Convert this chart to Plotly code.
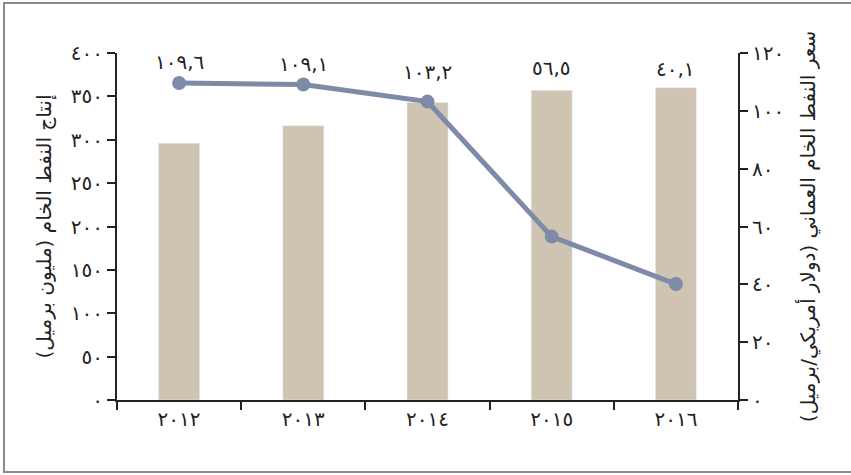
import plotly.graph_objects as go

# Oman crude oil: annual production (million barrels) and average price (USD/barrel)
years = ["٢٠١٢", "٢٠١٣", "٢٠١٤", "٢٠١٥", "٢٠١٦"]
production = [296, 316, 343, 357, 360]
price = [109.6, 109.1, 103.2, 56.5, 40.1]
price_labels = ["١٠٩,٦", "١٠٩,١", "١٠٣,٢", "٥٦,٥", "٤٠,١"]
label_lift = [21, 21, 30, 22, 19]

left_ticks = [0, 50, 100, 150, 200, 250, 300, 350, 400]
left_ticktext = ["٠", "٥٠", "١٠٠", "١٥٠", "٢٠٠", "٢٥٠", "٣٠٠", "٣٥٠", "٤٠٠"]
right_ticks = [0, 20, 40, 60, 80, 100, 120]
right_ticktext = ["٠", "٢٠", "٤٠", "٦٠", "٨٠", "١٠٠", "١٢٠"]

left_title = "إنتاج النفط الخام (مليون برميل)"
right_title = "سعر النفط الخام العماني (دولار أمريكي/برميل)"

W, H = 851, 475
ML, MR, MT, MB = 117, 113, 53, 75
PW, PH = W - ML - MR, H - MT - MB

BAR = "#cfc4b1"
LINE = "#7d8aa8"
INK = "#222222"
FONT = "DejaVu Sans"

fig = go.Figure()
fig.add_trace(go.Bar(x=years, y=production, marker_color=BAR, width=0.33,
                     yaxis="y", showlegend=False, hoverinfo="skip"))
fig.add_trace(go.Scatter(x=years, y=price, yaxis="y2", mode="lines+markers",
                         line=dict(color=LINE, width=5),
                         marker=dict(color=LINE, size=14),
                         showlegend=False, hoverinfo="skip"))

# value labels above the higher of the point and its bar
for yr, p, bar, txt, lift in zip(years, price, production, price_labels, label_lift):
    anchor = max(p * 400 / 120, bar)
    fig.add_annotation(x=yr, y=anchor, xref="x", yref="y", text=txt,
                       showarrow=False, yshift=lift,
                       font=dict(family=FONT, size=20, color=INK))

axis_common = dict(showline=True, linecolor=INK, linewidth=2, ticks="outside",
                   ticklen=8, tickwidth=2, tickcolor=INK, showgrid=False,
                   zeroline=False, tickfont=dict(family=FONT, size=20, color=INK))

fig.update_layout(
    width=W, height=H,
    margin=dict(l=ML, r=MR, t=MT, b=MB),
    paper_bgcolor="white", plot_bgcolor="white",
    xaxis=dict(type="category", tickson="boundaries", **axis_common),
    yaxis=dict(range=[0, 400], tickvals=left_ticks, ticktext=left_ticktext,
               title=dict(text=left_title, standoff=14,
                          font=dict(family=FONT, size=20, color=INK)),
               **axis_common),
    yaxis2=dict(range=[0, 120], tickvals=right_ticks, ticktext=right_ticktext,
                overlaying="y", side="right",
                title=dict(text=right_title, standoff=18,
                           font=dict(family=FONT, size=20, color=INK)),
                **axis_common),
    bargap=0.67,
)

# thin grey frame around the chart
fig.add_shape(type="rect", xref="paper", yref="paper",
              x0=(4 - ML) / PW, x1=(W + 3 - ML) / PW,
              y0=(MT + PH - 472) / PH, y1=(MT + PH - 3) / PH,
              line=dict(color="#8a8a8a", width=2), fillcolor="rgba(0,0,0,0)")

fig.write_html("out.html")
